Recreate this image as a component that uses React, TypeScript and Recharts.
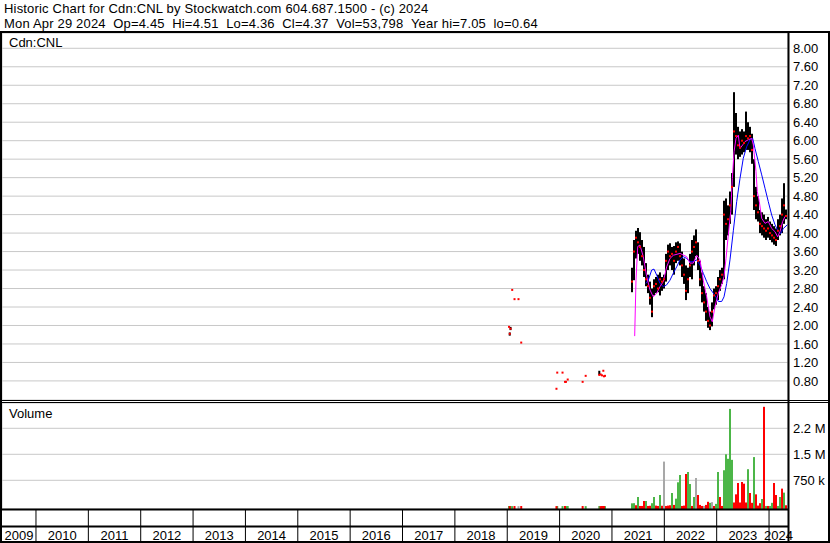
import React from 'react';
import { ComposedChart, Scatter, Line, XAxis, YAxis, CartesianGrid, ErrorBar } from 'recharts';

const FONT = '"Liberation Sans", Arial, Helvetica, sans-serif';

const TITLE = 'Historic Chart for Cdn:CNL by Stockwatch.com 604.687.1500 - (c) 2024';
const SUBTITLE_PARTS = ['Mon Apr 29 2024', 'Op=4.45', 'Hi=4.51', 'Lo=4.36', 'Cl=4.37', 'Vol=53,798', 'Year hi=7.05', 'lo=0.64'];
const SYMBOL = 'Cdn:CNL';
const VOLUME_TITLE = 'Volume';

const yearBounds = [2010, 2011, 2012, 2013, 2014, 2015, 2016, 2017, 2018, 2019, 2020, 2021, 2022, 2023, 2024];
const yearLabelTicks = [2009.676, 2010.5, 2011.5, 2012.5, 2013.5, 2014.5, 2015.5, 2016.5, 2017.5, 2018.5, 2019.5, 2020.5, 2021.5, 2022.5, 2023.5, 2024.181];
const priceTicks = [0.8, 1.2, 1.6, 2.0, 2.4, 2.8, 3.2, 3.6, 4.0, 4.4, 4.8, 5.2, 5.6, 6.0, 6.4, 6.8, 7.2, 7.6, 8.0];
const volumeTicks = [750000, 1500000, 2250000];
const volumeTickLabels = ['750 k', '1.5 M', '2.2 M'];

const X_DOMAIN = [2009.351, 2024.362];
const PRICE_DOMAIN = [0.387, 8.331];
const VOL_DOMAIN = [-78000, 2980000];

const dates = [
  2019.034, 2019.048, 2019.063, 2019.095, 2019.139, 2019.215, 2019.267, 2019.940, 2019.955, 2020.056,
  2020.103, 2020.122, 2020.155, 2020.440, 2020.498, 2020.758, 2020.784, 2020.810, 2020.835, 2020.848, 2020.867,
  2021.383, 2021.421, 2021.459, 2021.497, 2021.535, 2021.574, 2021.612, 2021.650, 2021.688, 2021.726,
  2021.765, 2021.803, 2021.841, 2021.879, 2021.917, 2021.956, 2021.994, 2022.032, 2022.070, 2022.108,
  2022.147, 2022.185, 2022.223, 2022.261, 2022.299, 2022.338, 2022.376, 2022.414, 2022.452, 2022.490,
  2022.529, 2022.567, 2022.605, 2022.643, 2022.681, 2022.720, 2022.758, 2022.796, 2022.834, 2022.872,
  2022.911, 2022.949, 2022.987, 2023.025, 2023.063, 2023.102, 2023.140, 2023.178, 2023.216, 2023.254,
  2023.293, 2023.331, 2023.369, 2023.407, 2023.445, 2023.484, 2023.522, 2023.560, 2023.598, 2023.636,
  2023.675, 2023.713, 2023.751, 2023.789, 2023.827, 2023.866, 2023.904, 2023.942, 2023.980, 2024.018,
  2024.057, 2024.095, 2024.133, 2024.171, 2024.209, 2024.248, 2024.286, 2024.324,
];

const highs = [
  1.97, 1.85, 1.97, 2.77, 2.57, 2.57, 1.63, 0.63, 0.98, 0.98,
  0.78, 0.78, 0.83, 0.78, 0.91, 1.02, 0.94, 0.92, 1.02, 0.90, 0.91,
  3.25, 3.85, 4.05, 4.11, 4.02, 3.85, 3.70, 3.35, 3.10, 2.95,
  2.80, 3.00, 3.05, 3.10, 3.15, 3.05, 3.10, 3.55, 3.75, 3.78,
  3.70, 3.72, 3.80, 3.82, 3.78, 3.60, 3.45, 3.30, 3.25, 3.55,
  3.85, 3.95, 4.08, 3.80, 3.40, 3.15, 2.85, 2.70, 2.40, 2.30,
  2.50, 2.80, 2.85, 3.05, 3.20, 3.25, 4.70, 4.75, 4.60, 4.90,
  5.30, 7.05, 6.60, 6.30, 6.20, 6.25, 6.20, 6.63, 6.40, 6.30,
  6.15, 5.60, 5.00, 4.80, 4.50, 4.45, 4.40, 4.30, 4.35, 4.25,
  4.20, 4.15, 4.10, 4.30, 4.40, 4.75, 5.08, 4.51,
];

const lows = [
  1.97, 1.78, 1.90, 2.77, 2.57, 2.57, 1.63, 0.63, 0.98, 0.98,
  0.78, 0.78, 0.83, 0.78, 0.91, 0.93, 0.94, 0.92, 1.02, 0.90, 0.91,
  2.72, 2.98, 3.45, 3.55, 3.40, 3.30, 3.05, 2.85, 2.70, 2.45,
  2.18, 2.65, 2.70, 2.72, 2.65, 2.75, 2.80, 2.95, 3.20, 3.30,
  3.20, 3.10, 3.35, 3.40, 3.30, 3.05, 2.90, 2.55, 2.70, 3.05,
  3.00, 3.30, 3.50, 3.20, 2.85, 2.50, 2.30, 2.10, 1.95, 1.90,
  1.98, 2.35, 2.45, 2.55, 2.75, 2.90, 3.00, 3.85, 3.95, 4.20,
  4.40, 5.00, 5.70, 5.60, 5.65, 5.70, 5.75, 5.80, 5.80, 5.75,
  5.50, 4.50, 4.30, 4.25, 4.00, 3.95, 3.90, 3.85, 3.90, 3.85,
  3.80, 3.75, 3.72, 3.85, 3.95, 4.00, 4.20, 4.30,
];

const closes = [
  1.97, 1.82, 1.93, 2.77, 2.57, 2.57, 1.63, 0.63, 0.98, 0.98,
  0.78, 0.78, 0.83, 0.78, 0.91, 0.93, 0.94, 0.92, 1.02, 0.90, 0.91,
  2.95, 3.60, 3.90, 3.80, 3.70, 3.50, 3.20, 3.00, 2.85, 2.60,
  2.30, 2.85, 2.90, 2.80, 3.00, 2.95, 3.00, 3.40, 3.60, 3.50,
  3.55, 3.40, 3.60, 3.70, 3.50, 3.30, 3.10, 2.75, 3.00, 3.30,
  3.60, 3.70, 3.80, 3.40, 3.00, 2.70, 2.50, 2.30, 2.10, 2.00,
  2.30, 2.65, 2.70, 2.85, 3.00, 3.10, 4.40, 4.20, 4.30, 4.60,
  5.00, 6.20, 6.10, 5.90, 5.85, 6.00, 5.95, 6.10, 6.05, 6.10,
  5.80, 4.80, 4.60, 4.45, 4.20, 4.15, 4.10, 4.05, 4.10, 4.00,
  3.95, 3.90, 3.85, 4.05, 4.15, 4.40, 4.60, 4.37,
];

const volumes = [
  8000, 6000, 8000, 5000, 8000, 5000, 8000, 6000, 8000, 6000,
  8000, 6000, 8000, 8000, 6000, 8000, 6000, 8000, 6000, 8000, 6000,
  86000, 90000, 30000, 268000, 10000, 10000, 153000, 153000, 10000, 15000,
  90000, 268000, 20000, 10000, 326000, 15000, 1290000, 10000, 20000, 30000,
  384000, 40000, 220000, 692000, 903000, 10000, 20000, 932000, 989000, 643000,
  10000, 268000, 816000, 326000, 40000, 10000, 10000, 40000, 130000, 100000,
  120000, 10000, 70000, 989000, 268000, 10000, 1040000, 1500000, 1370000, 2810000,
  1340000, 110000, 345000, 672000, 110000, 701000, 653000, 110000, 1070000, 384000,
  100000, 1420000, 345000, 20000, 90000, 210000, 2870000, 10000, 10000, 10000,
  100000, 672000, 326000, 10000, 268000, 510000, 394000, 30000,
];

const directions = [
  'u', 'd', 'u', 'u', 'd', 'f', 'd', 'd', 'u', 'u',
  'd', 'u', 'u', 'd', 'u', 'u', 'd', 'd', 'u', 'd', 'u',
  'u', 'u', 'd', 'u', 'd', 'd', 'd', 'u', 'd', 'd',
  'u', 'u', 'd', 'd', 'u', 'd', 'f', 'd', 'd', 'd',
  'u', 'd', 'u', 'u', 'u', 'd', 'd', 'd', 'u', 'u',
  'd', 'u', 'f', 'd', 'd', 'd', 'f', 'd', 'd', 'u',
  'f', 'd', 'u', 'u', 'd', 'd', 'u', 'u', 'u', 'u',
  'u', 'd', 'd', 'd', 'd', 'd', 'd', 'd', 'u', 'd',
  'd', 'u', 'd', 'd', 'd', 'u', 'd', 'u', 'd', 'u',
  'u', 'd', 'd', 'u', 'u', 'd', 'u', 'd',
];

const fastMaDates = [
  2021.434, 2021.459, 2021.492, 2021.535, 2021.598, 2021.663, 2021.726, 2021.789, 2021.854, 2021.917,
  2021.980, 2022.045, 2022.108, 2022.171, 2022.299, 2022.427, 2022.490, 2022.553, 2022.618, 2022.681,
  2022.744, 2022.809, 2022.872, 2022.916, 2022.968, 2023.031, 2023.096, 2023.140, 2023.178, 2023.222,
  2023.268, 2023.299, 2023.331, 2023.369, 2023.413, 2023.445, 2023.497, 2023.541, 2023.604, 2023.669,
  2023.699, 2023.751, 2023.776, 2023.814, 2023.860, 2023.923, 2023.986, 2024.051, 2024.114, 2024.165,
  2024.209, 2024.260, 2024.305, 2024.349,
];
const fastMa = [
  1.77, 2.98, 3.71, 3.74, 3.49, 3.06, 2.77, 2.62, 2.70, 2.84,
  2.95, 3.27, 3.45, 3.52, 3.56, 3.49, 3.35, 3.35, 3.52, 3.42,
  2.98, 2.62, 2.19, 2.08, 2.41, 2.70, 2.88, 3.06, 3.45, 3.96,
  4.46, 5.18, 5.76, 6.05, 6.12, 5.83, 5.91, 5.98, 6.02, 6.05,
  5.91, 5.33, 4.90, 4.68, 4.32, 4.21, 4.25, 4.10, 4.03, 3.92,
  4.03, 4.25, 4.36, 4.36,
];

const slowMaDates = [
  2021.644, 2021.694, 2021.759, 2021.803, 2021.854, 2021.917, 2021.980, 2022.045, 2022.108, 2022.171,
  2022.236, 2022.299, 2022.362, 2022.427, 2022.490, 2022.553, 2022.618, 2022.681, 2022.744, 2022.809,
  2022.872, 2022.936, 2023.000, 2023.031, 2023.096, 2023.140, 2023.191, 2023.254, 2023.318, 2023.382,
  2023.445, 2023.508, 2023.573, 2023.636, 2023.688, 2023.732, 2023.795, 2023.860, 2023.923, 2023.986,
  2024.051, 2024.114, 2024.177, 2024.222, 2024.273, 2024.349,
];
const slowMa = [
  2.91, 2.98, 3.20, 3.22, 3.09, 2.91, 2.84, 2.88, 2.98, 3.13,
  3.27, 3.42, 3.49, 3.45, 3.38, 3.38, 3.42, 3.31, 3.13, 2.95,
  2.80, 2.70, 2.59, 2.52, 2.52, 2.62, 2.91, 3.42, 4.05, 4.68,
  5.18, 5.62, 5.87, 6.02, 6.05, 5.83, 5.55, 5.26, 4.97, 4.68,
  4.39, 4.18, 4.03, 3.99, 4.10, 4.18,
];

const GREEN = '#4cb648';
const RED = '#ff0000';
const GRAY = '#a8a8a8';
const GRID = '#c8c8c8';

const priceRows = dates.map((t, i) => ({ t, hi: highs[i], lo: lows[i], close: closes[i] }));
const volRows = dates.map((t, i) => ({ t, vol: volumes[i], dir: directions[i] }));
const volUp = volRows.filter((r) => r.dir === 'u');
const volDown = volRows.filter((r) => r.dir === 'd');
const volFlat = volRows.filter((r) => r.dir === 'f');
const fastRows = fastMaDates.map((t, i) => ({ t, v: fastMa[i] }));
const slowRows = slowMaDates.map((t, i) => ({ t, v: slowMa[i] }));
const stripTicks = [...yearBounds, ...yearLabelTicks].sort((a, b) => a - b);

const priceRange = (d: any) => [d.close - d.lo, d.hi - d.close];
const volSpan = (d: any) => [d.vol - VOL_DOMAIN[0], 0];

const CloseMark = (props: any) => {
  const { cx, cy } = props;
  if (cx == null || cy == null) return <g />;
  return <rect x={cx - 1} y={cy - 1} width={2} height={2} fill={RED} />;
};
const NoMark = () => <g />;

const YearTick = (props: any) => {
  const { x, y, payload } = props;
  const v = payload.value;
  if (Number.isInteger(v)) {
    return <line x1={x} x2={x} y1={y} y2={y + 32} stroke="#000" strokeWidth={1} />;
  }
  return (
    <text x={x} y={y + 30.5} textAnchor="middle" fontSize={13} fontFamily={FONT} fill="#000">
      {Math.floor(v)}
    </text>
  );
};

const tickStyle = { fontSize: 13, fill: '#000', fontFamily: FONT };
const FIELD_GAP = 7.5; // two space widths between header fields
const HEADER_SPACING = 0.18;

export default function App() {
  return (
    <div style={{ position: 'absolute', left: 0, top: 0, width: 830, height: 543, background: '#fff', overflow: 'hidden', fontFamily: FONT }}>
      <div style={{ position: 'absolute', left: 0, top: 33 }}>
        <ComposedChart width={830} height={367} margin={{ top: 0, right: 0, bottom: 0, left: 2 }}>
          <CartesianGrid stroke={GRID} strokeWidth={1} />
          <XAxis dataKey="t" type="number" domain={X_DOMAIN} allowDataOverflow ticks={yearBounds} interval={0}
            height={0} tick={false} axisLine={false} tickLine={false} />
          <YAxis orientation="right" type="number" domain={PRICE_DOMAIN} allowDataOverflow ticks={priceTicks} interval={0}
            width={42} axisLine={false} tickLine={false} tickSize={0} tickMargin={5} tick={tickStyle}
            tickFormatter={(v: number) => v.toFixed(2)} />
          <Scatter data={priceRows} dataKey="close" shape={CloseMark} isAnimationActive={false}>
            <ErrorBar dataKey={priceRange} direction="y" width={0} stroke="#000" strokeWidth={2} isAnimationActive={false} />
          </Scatter>
          <Line data={slowRows} dataKey="v" type="linear" stroke="#0000ff" strokeWidth={1} dot={false} isAnimationActive={false} />
          <Line data={fastRows} dataKey="v" type="linear" stroke="#ff00ff" strokeWidth={1} dot={false} isAnimationActive={false} />
        </ComposedChart>
      </div>
      <div style={{ position: 'absolute', left: 0, top: 403 }}>
        <ComposedChart width={830} height={140} margin={{ top: 0, right: 0, bottom: 0, left: 2 }}>
          <CartesianGrid stroke={GRID} strokeWidth={1} xAxisId="grid" />
          <XAxis xAxisId="grid" dataKey="t" type="number" domain={X_DOMAIN} allowDataOverflow ticks={yearBounds} interval={0}
            height={0} tick={false} axisLine={false} tickLine={false} />
          <XAxis xAxisId="strip" dataKey="t" type="number" domain={X_DOMAIN} allowDataOverflow ticks={stripTicks} interval={0}
            height={34} tick={YearTick} axisLine={false} tickLine={false} tickSize={0} tickMargin={0} />
          <YAxis orientation="right" type="number" domain={VOL_DOMAIN} allowDataOverflow ticks={volumeTicks} interval={0}
            width={42} axisLine={false} tickLine={false} tickSize={0} tickMargin={5} tick={tickStyle}
            tickFormatter={(v: number) => volumeTickLabels[volumeTicks.indexOf(v)]} />
          <Scatter xAxisId="grid" data={volFlat} dataKey="vol" shape={NoMark} isAnimationActive={false}>
            <ErrorBar dataKey={volSpan} direction="y" width={0} stroke={GRAY} strokeWidth={2} isAnimationActive={false} />
          </Scatter>
          <Scatter xAxisId="grid" data={volUp} dataKey="vol" shape={NoMark} isAnimationActive={false}>
            <ErrorBar dataKey={volSpan} direction="y" width={0} stroke={GREEN} strokeWidth={2} isAnimationActive={false} />
          </Scatter>
          <Scatter xAxisId="grid" data={volDown} dataKey="vol" shape={NoMark} isAnimationActive={false}>
            <ErrorBar dataKey={volSpan} direction="y" width={0} stroke={RED} strokeWidth={2} isAnimationActive={false} />
          </Scatter>
        </ComposedChart>
      </div>
      <svg width={830} height={543} style={{ position: 'absolute', left: 0, top: 0, pointerEvents: 'none' }}>
        <text x={4} y={12.7} fontSize={13} fontFamily={FONT} fill="#000" letterSpacing={HEADER_SPACING}>{TITLE}</text>
        <text x={4} y={27.7} fontSize={13} fontFamily={FONT} fill="#000" letterSpacing={HEADER_SPACING}>
          {SUBTITLE_PARTS.map((p, i) => (
            <tspan key={i} dx={i === 0 ? 0 : FIELD_GAP}>{p}</tspan>
          ))}
        </text>
        <text x={9} y={46.5} fontSize={13} fontFamily={FONT} fill="#000">{SYMBOL}</text>
        <text x={9} y={418} fontSize={13} fontFamily={FONT} fill="#000">{VOLUME_TITLE}</text>
        <rect x={0} y={31} width={830} height={2} fill="#000" />
        <rect x={0} y={31} width={2} height={512} fill="#000" />
        <rect x={787.5} y={31} width={2} height={512} fill="#000" />
        <rect x={828} y={31} width={2} height={512} fill="#000" />
        <rect x={0} y={400} width={830} height={1} fill="#000" />
        <rect x={0} y={402} width={830} height={1} fill="#000" />
        <rect x={0} y={508.5} width={789} height={2} fill="#000" />
        <rect x={0} y={525.5} width={789} height={2} fill="#000" />
        <rect x={0} y={541} width={830} height={2} fill="#000" />
      </svg>
    </div>
  );
}
